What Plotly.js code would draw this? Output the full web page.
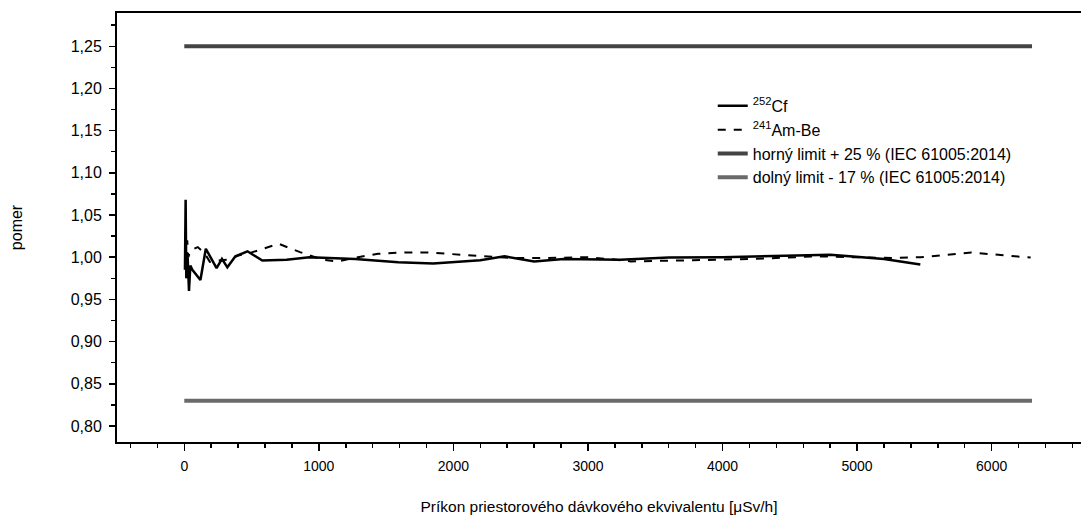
<!DOCTYPE html>
<html>
<head>
<meta charset="utf-8">
<script src="https://cdn.plot.ly/plotly-3.0.1.min.js"></script>
<style>html,body{margin:0;padding:0;background:#fff;}#chart{width:1081px;height:520px;}</style>
</head>
<body>
<div id="chart"></div>
<script>
// 252Cf series
const cfX = [5, 10, 15, 25, 35, 45, 60, 120, 160, 240, 280, 320, 380, 470, 580, 760, 930, 1270, 1590, 1850, 2200, 2380, 2600, 2820, 3240, 3600, 4000, 4350, 4800, 5200, 5470];
const cfY = [0.985, 1.068, 0.975, 1.0, 0.96, 0.99, 0.985, 0.973, 1.010, 0.987, 0.998, 0.988, 1.001, 1.007, 0.996, 0.997, 1.000, 0.998, 0.994, 0.9925, 0.9964, 1.001, 0.995, 0.998, 0.997, 0.9995, 1.0, 1.001, 1.003, 0.998, 0.9913];
// 241Am-Be series
const amX = [5, 10, 15, 22, 30, 45, 100, 150, 190, 270, 330, 400, 470, 590, 700, 860, 1030, 1140, 1290, 1440, 1600, 1800, 1950, 2220, 2450, 2700, 3000, 3170, 3320, 3780, 4230, 4700, 5270, 5470, 5850, 6290];
const amY = [1.0, 1.034, 0.985, 1.02, 1.0, 1.008, 1.012, 1.005, 0.9945, 0.9965, 0.997, 1.002, 1.004, 1.010, 1.016, 1.006, 0.997, 0.995, 1.0, 1.004, 1.0056, 1.0056, 1.004, 1.001, 0.999, 0.999, 1.0, 0.9976, 0.995, 0.9964, 0.998, 1.001, 0.999, 1.0, 1.0055, 0.9995];
// limits
const limitX = [0, 6300];
const upperY = [1.25, 1.25];
const lowerY = [0.83, 0.83];

const names = ['<sup>252</sup>Cf', '<sup>241</sup>Am-Be', 'horný limit + 25 % (IEC 61005:2014)', 'dolný limit - 17 % (IEC 61005:2014)'];
const yTickVals = [0.80, 0.85, 0.90, 0.95, 1.00, 1.05, 1.10, 1.15, 1.20, 1.25];

const font = 'Arial, "Liberation Sans", sans-serif';

const traces = [
  {x: cfX, y: cfY, mode: 'lines', name: names[0], legendgroup: 'a', line: {color: '#000', width: 2.5}},
  {x: amX, y: amY, mode: 'lines', name: names[1], legendgroup: 'b', line: {color: '#000', width: 2, dash: '8px,8px'}},
  {x: limitX, y: upperY, mode: 'lines', name: names[2], legendgroup: 'c', line: {color: '#444444', width: 4}},
  {x: limitX, y: lowerY, mode: 'lines', name: names[3], legendgroup: 'd', line: {color: '#6a6a6a', width: 4}}
];

const layout = {
  width: 1081, height: 520,
  margin: {l: 117, r: 0, t: 13, b: 78, pad: 0},
  paper_bgcolor: '#fff', plot_bgcolor: '#fff',
  font: {family: font, size: 15, color: '#000'},
  separators: ', ',
  showlegend: true,
  legend: {x: 0.618, y: 0.823, xanchor: 'left', yanchor: 'top', bgcolor: 'rgba(0,0,0,0)',
           font: {family: font, size: 16, color: '#000'}, tracegroupgap: 0, traceorder: 'grouped'},
  xaxis: {
    range: [-500, 6664], showgrid: false, zeroline: false,
    showline: true, linecolor: '#000', linewidth: 2, mirror: true,
    ticks: 'outside', ticklen: 7, tickwidth: 1.5, tickcolor: '#000',
    tick0: 0, dtick: 1000,
    minor: {ticks: 'outside', ticklen: 4, tickwidth: 1.5, tickcolor: '#000', dtick: 200, tick0: 0, showgrid: false},
    tickfont: {family: font, size: 14},
    ticklabelstandoff: 3,
    title: {text: 'Príkon priestorového dávkového ekvivalentu [μSv/h]', font: {family: font, size: 15.5}, standoff: 28}
  },
  yaxis: {
    range: [0.781, 1.2894], showgrid: false, zeroline: false,
    showline: true, linecolor: '#000', linewidth: 2, mirror: false,
    ticks: 'outside', ticklen: 6, tickwidth: 1.5, tickcolor: '#000',
    tickmode: 'array', tickvals: yTickVals, tickformat: '.2f',
    minor: {ticks: 'outside', ticklen: 4, tickwidth: 1.5, tickcolor: '#000', dtick: 0.025, tick0: 0.8, showgrid: false},
    tickfont: {family: font, size: 16},
    ticklabelstandoff: 4,
    title: {text: 'pomer', font: {family: font, size: 16}, standoff: 44}
  }
};

Plotly.newPlot('chart', traces, layout, {displayModeBar: false, staticPlot: true});
</script>
</body>
</html>
